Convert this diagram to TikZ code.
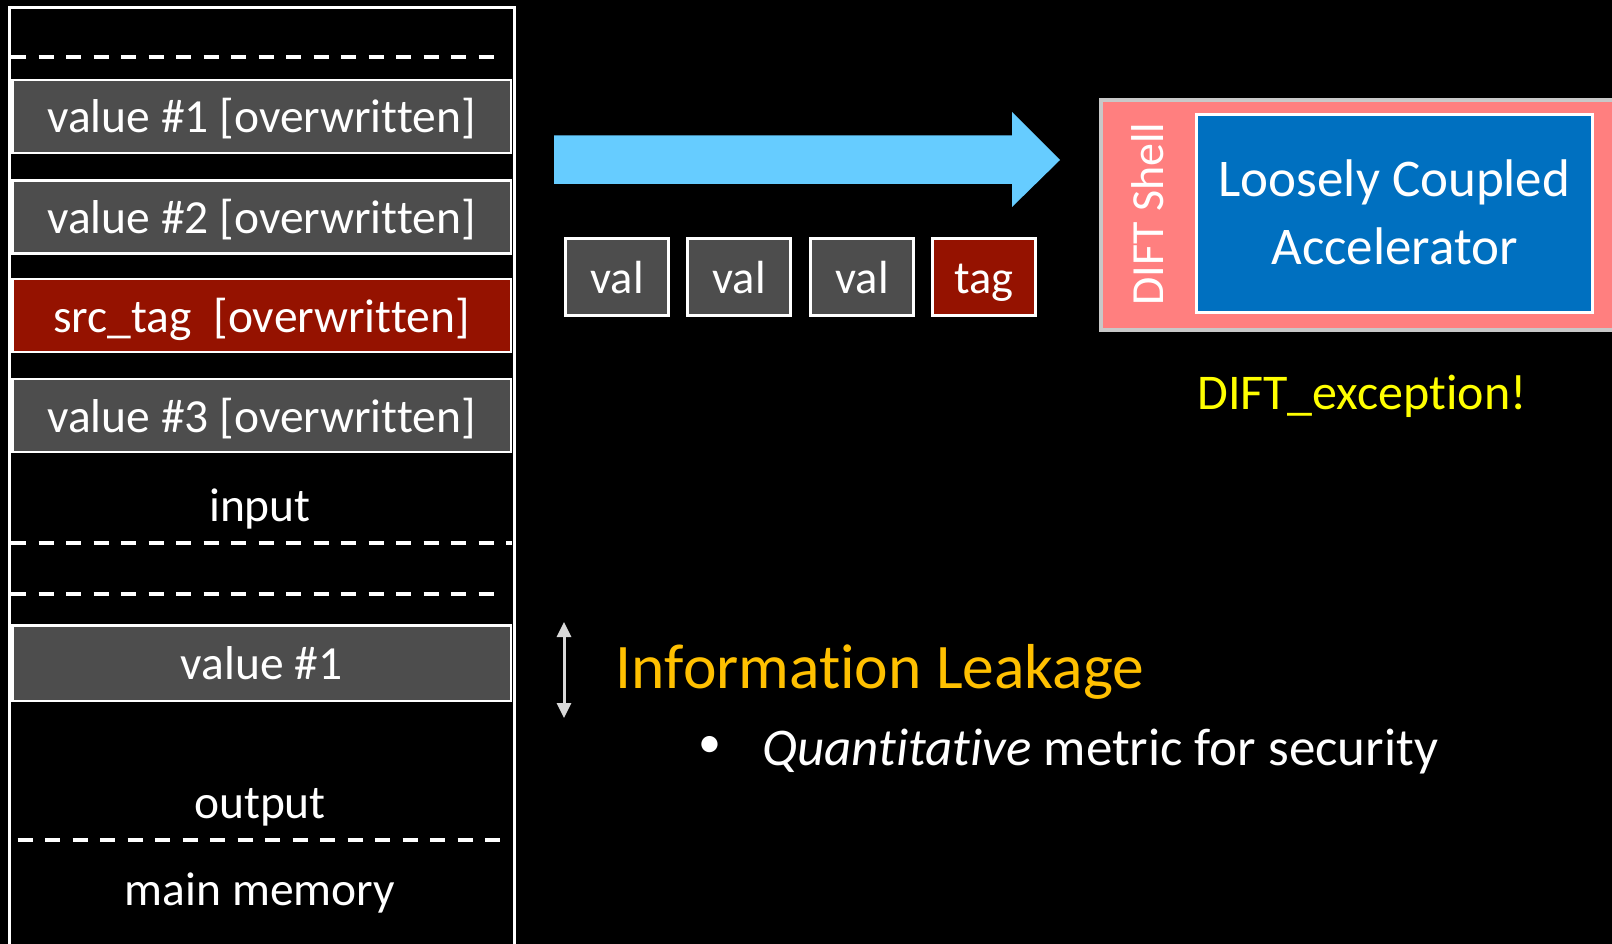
\documentclass[tikz,border=0pt]{standalone}
\usepackage{fontspec}
\setmainfont{Carlito}[Ligatures=NoCommon]
\usetikzlibrary{arrows.meta}
\definecolor{cellgray}{HTML}{4D4D4D}
\definecolor{tagred}{HTML}{951200}
\definecolor{flowblue}{HTML}{66CCFF}
\definecolor{shellpink}{HTML}{FF7F7F}
\definecolor{accblue}{HTML}{0070C0}
\definecolor{leakgold}{HTML}{FFC000}
\definecolor{excyellow}{HTML}{FFFF00}
\definecolor{edgegray}{HTML}{C8C8C8}
\definecolor{tipgray}{HTML}{D9D9D9}
\newcommand{\fs}[1]{\fontsize{#1}{#1}\selectfont}
\tikzset{
  cell/.style={draw=white, line width=2.5pt, fill=cellgray, text=white,
    minimum width=498.5pt, minimum height=73pt, inner sep=0pt, font=\fs{47.5},
    text height=33pt, text depth=0pt},
  tagcell/.style={cell, fill=tagred},
  memlabel/.style={text=white, inner sep=0pt, font=\fs{47.5}, anchor=base},
  sep/.style={draw=white, line width=3.5pt, dash pattern=on 15pt off 12.5pt},
  token/.style={draw=white, line width=2.5pt, fill=cellgray, text=white,
    minimum width=103pt, minimum height=77pt, inner sep=0pt, font=\fs{46.5},
    text height=32pt, text depth=0pt},
  tagtoken/.style={token, fill=tagred},
}
\begin{document}
\begin{tikzpicture}[x=1pt,y=-1pt]
  % canvas
  \fill[black] (0,0) rectangle (1612,944);
  \useasboundingbox (0,0) rectangle (1612,944);

  % memory stack
  \draw[white, line width=3pt] (9.5,7.5) rectangle (514,946);
  \draw[sep] (11,57) -- (500,57);
  \node[cell] (ow1) at (261.5,116.5) {value \#1 [overwritten]};
  \node[cell] (ow2) at (261.5,217) {value \#2 [overwritten]};
  \node[tagcell] (src) at (261.5,315.5) {src\_tag\ \ [overwritten]};
  \node[cell] (ow3) at (261.5,415.5) {value \#3 [overwritten]};
  \node[memlabel] (input) at (260,521.5) {input};
  \draw[sep] (11,543) -- (512,543);
  \draw[sep] (11,594) -- (500,594);
  \node[cell, minimum height=75.5pt] (v1) at (261.5,663) {value \#1};
  \node[memlabel] (output) at (260,818) {output};
  \draw[sep] (17.5,840) -- (510,840);
  \node[memlabel] (mem) at (260,905) {main memory};

  % data flow arrow
  \coordinate (fa) at (554,135.5);
  \coordinate (fb) at (1012,135.5);
  \coordinate (fc) at (1012,112);
  \coordinate (ftip) at (1060,160);
  \coordinate (fd) at (1012,207);
  \coordinate (fe) at (1012,184);
  \coordinate (ff) at (554,184);
  \fill[flowblue] (fa) -- (fb) -- (fc) -- (ftip) -- (fd) -- (fe) -- (ff) -- cycle;

  % tokens
  \node[token] (t1) at (617,277) {val};
  \node[token] (t2) at (739,277) {val};
  \node[token] (t3) at (862,277) {val};
  \node[tagtoken] (t4) at (984,277) {tag};

  % DIFT shell and accelerator
  \draw[fill=shellpink, draw=edgegray, line width=3.5pt] (1101,100) rectangle (1630,330);
  \node[rotate=90, text=white, inner sep=0pt, font=\fs{46}] (shell) at (1148,214) {DIFT Shell};
  \node[draw=white, line width=3pt, fill=accblue, minimum width=396pt,
    minimum height=197pt, inner sep=0pt] (acc) at (1394.5,213.5) {};
  \node[text=white, anchor=base, inner sep=0pt, font=\fs{53}] (acc1) at (1394.5,196.5) {Loosely Coupled};
  \node[text=white, anchor=base, inner sep=0pt, font=\fs{53}] (acc2) at (1394.5,265) {Accelerator};
  \node[text=excyellow, anchor=base, inner sep=0pt, font=\fs{50}] (exc) at (1362,409) {DIFT\_exception!};

  % information leakage
  \coordinate (la) at (564,622);
  \coordinate (lb) at (564,718);
  \draw[tipgray, line width=3pt, {Triangle[width=14pt,length=15pt]}-{Triangle[width=14pt,length=15pt]}] (la) -- (lb);
  \node[text=leakgold, anchor=base, inner sep=0pt, font=\fs{63.5}] (leak) at (880,688) {Information Leakage};
  \node[text=white, inner sep=0pt, font=\fs{46}] (dot) at (710,747) {•};
  \node[text=white, anchor=base west, inner sep=0pt, font=\fs{53}] (metric) at (762,765) {\textit{Quantitative} metric for security};
\end{tikzpicture}
\end{document}
